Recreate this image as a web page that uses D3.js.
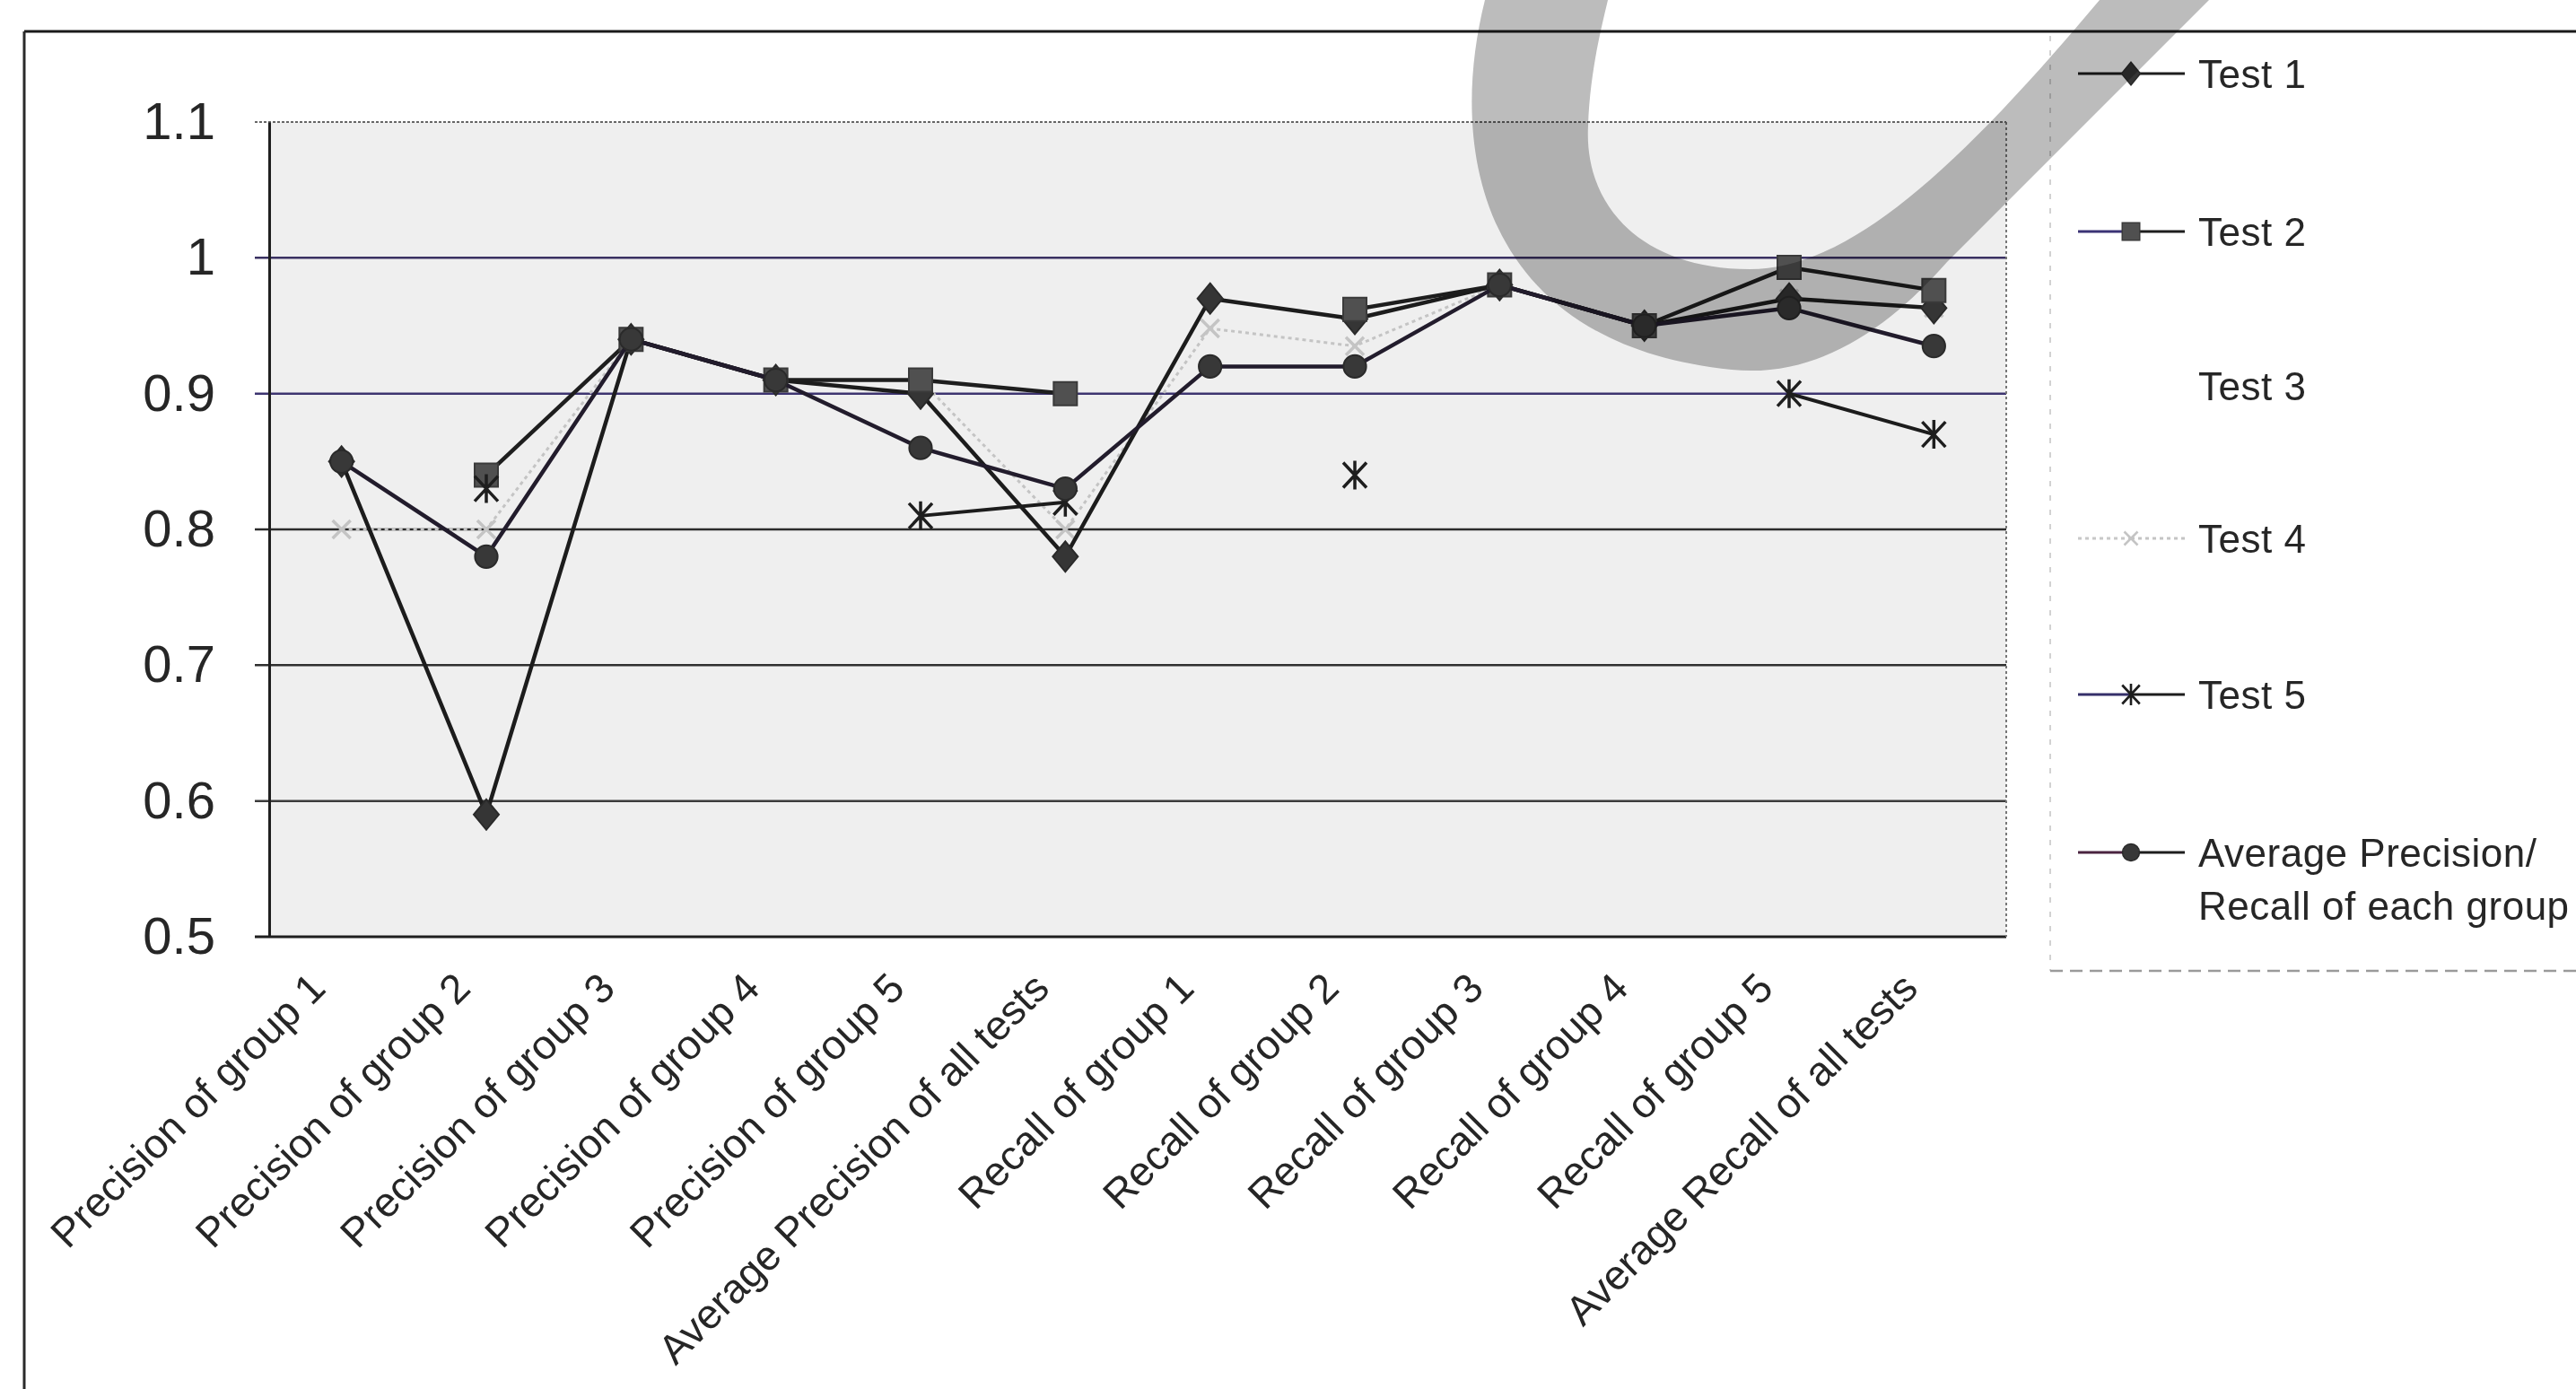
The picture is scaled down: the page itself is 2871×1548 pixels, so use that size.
<!DOCTYPE html>
<html>
<head>
<meta charset="utf-8">
<script src="https://cdn.jsdelivr.net/npm/d3@7/dist/d3.min.js"></script>
<style>
  html, body { margin: 0; padding: 0; background: #ffffff; }
  svg { display: block; }
  text { font-family: "Liberation Sans", Arial, sans-serif; fill: #262626; }
</style>
</head>
<body>
<svg id="chart" width="2871" height="1548"></svg>
<script>
// Categories along the x axis
const categories = [
  "Precision of group 1", "Precision of group 2", "Precision of group 3",
  "Precision of group 4", "Precision of group 5", "Average Precision of all tests",
  "Recall of group 1", "Recall of group 2", "Recall of group 3",
  "Recall of group 4", "Recall of group 5", "Average Recall of all tests"
];

// Series values (null = no value for that category)
const test1   = [0.85, 0.59, 0.94, 0.91, 0.90, 0.78, 0.97, 0.955, 0.98, 0.95, 0.97, 0.963];
const test2   = [null, 0.84, 0.94, 0.91, 0.91, 0.90, null, 0.962, 0.98, 0.95, 0.993, 0.976];
const test3   = [null, null, null, null, null, null, null, null, null, null, null, null];
const test4   = [0.80, 0.80, 0.94, 0.91, 0.91, 0.80, 0.948, 0.935, 0.98, 0.95, 0.97, 0.963];
const test5   = [null, 0.83, null, null, 0.81, 0.82, null, 0.84, null, null, 0.90, 0.87];
const average = [0.85, 0.78, 0.94, 0.91, 0.86, 0.83, 0.92, 0.92, 0.98, 0.95, 0.963, 0.935];

// Series names as shown in the legend
const seriesNames = ["Test 1", "Test 2", "Test 3", "Test 4", "Test 5", "Average Precision/\nRecall of each group"];

// Y axis ticks
const yTickValues = [0.5, 0.6, 0.7, 0.8, 0.9, 1.0, 1.1];
const yTickLabels = ["0.5", "0.6", "0.7", "0.8", "0.9", "1", "1.1"];

const svg = d3.select("#chart");
const W = 2871, H = 1548;

// Plot area
const plot = { left: 300, right: 2236, top: 136, bottom: 1044 };

const x = d3.scalePoint().domain(categories).range([plot.left, plot.right]).padding(0.5);
const y = d3.scaleLinear().domain([0.5, 1.1]).range([plot.bottom, plot.top]);

// Outer chart frame (top and left edges)
svg.append("line").attr("x1", 27).attr("x2", W).attr("y1", 35).attr("y2", 35)
  .attr("stroke", "#1a1a1a").attr("stroke-width", 3);
svg.append("line").attr("x1", 27).attr("x2", 27).attr("y1", 35).attr("y2", H)
  .attr("stroke", "#2a2a2a").attr("stroke-width", 3);

// Plot background
svg.append("rect")
  .attr("x", plot.left).attr("y", plot.top)
  .attr("width", plot.right - plot.left).attr("height", plot.bottom - plot.top)
  .attr("fill", "#efefef");

// Horizontal gridlines
const gridStyle = {
  0.5: { c: "#1f1f1f", w: 3, dash: null },
  0.6: { c: "#3c3c3c", w: 2.5, dash: null },
  0.7: { c: "#2f2f2f", w: 2.5, dash: null },
  0.8: { c: "#2c2c2c", w: 2.5, dash: null },
  0.9: { c: "#3d3470", w: 2.5, dash: null },
  1.0: { c: "#3a3162", w: 2.5, dash: null },
  1.1: { c: "#666666", w: 2, dash: "3,2" }
};
svg.append("g").selectAll("line")
  .data(yTickValues)
  .join("line")
  .attr("x1", plot.left - 16).attr("x2", plot.right)
  .attr("y1", d => y(d)).attr("y2", d => y(d))
  .attr("stroke", d => gridStyle[d].c)
  .attr("stroke-width", d => gridStyle[d].w)
  .attr("stroke-dasharray", d => gridStyle[d].dash);

// Right edge of plot area (dotted)
svg.append("line")
  .attr("x1", plot.right).attr("x2", plot.right)
  .attr("y1", plot.top).attr("y2", plot.bottom)
  .attr("stroke", "#777").attr("stroke-width", 2).attr("stroke-dasharray", "3,3");

// Y axis with labels
const yAxis = d3.axisLeft(y)
  .tickValues(yTickValues)
  .tickFormat((d, i) => yTickLabels[i])
  .tickSize(0)
  .tickPadding(60);
const yg = svg.append("g").attr("transform", `translate(${plot.left},0)`).call(yAxis);
yg.select(".domain").attr("stroke", "#1f1f1f").attr("stroke-width", 3);
yg.selectAll("text")
  .style("font-family", "'Liberation Sans', Arial, sans-serif")
  .style("font-size", "58px")
  .attr("fill", "#2a2a2a");

// X axis labels (rotated)
const xAxis = d3.axisBottom(x).tickSize(0).tickPadding(0);
const xg = svg.append("g").attr("transform", `translate(0,${plot.bottom})`).call(xAxis);
xg.select(".domain").remove();
xg.selectAll(".tick text")
  .style("font-family", "'Liberation Sans', Arial, sans-serif")
  .style("font-size", "46px")
  .attr("fill", "#2a2a2a")
  .attr("text-anchor", "end")
  .attr("dy", null)
  .attr("y", 0)
  .attr("transform", "translate(-16,60) rotate(-45)");

// Marker shapes
function markerPath(kind) {
  switch (kind) {
    case "diamond": return "M0,-17L14,0L0,17L-14,0Z";
    case "square": return "M-13,-13L13,-13L13,13L-13,13Z";
    case "circle": return d3.symbol(d3.symbolCircle, 500)();
    case "star": return "M-13,-14L13,14M13,-14L-13,14M0,-16L0,16";
    case "cross": return "M-10,-10L10,10M10,-10L-10,10";
    default: return "";
  }
}

const series = [
  { name: seriesNames[0], values: test1, line: "#1c1c1c", width: 4.5, dash: null, marker: "diamond", fill: "#353535", stroke: "#2a2a2a", legendLine: "#1c1c1c" },
  { name: seriesNames[1], values: test2, line: "#1e1e1e", width: 4.5, dash: null, marker: "square", fill: "#505050", stroke: "#3a3a3a", legendLine: "#3b3375" },
  { name: seriesNames[2], values: test3, line: "#ffffff", width: 4, dash: null, marker: "circle", fill: "#ffffff", stroke: "#ffffff", legendLine: "#ffffff" },
  { name: seriesNames[3], values: test4, line: "#c4c4c4", width: 3, dash: "4,4", marker: "cross", fill: "none", stroke: "#c4c4c4", legendLine: "#c8c8c8" },
  { name: seriesNames[4], values: test5, line: "#1c1c1c", width: 4, dash: null, marker: "star", fill: "none", stroke: "#1e1e1e", legendLine: "#35306a" },
  { name: seriesNames[5], values: average, line: "#221c2c", width: 4.5, dash: null, marker: "circle", fill: "#383838", stroke: "#2a2a2a", legendLine: "#4a2440" }
];

const lineGen = d3.line()
  .defined(d => d.v !== null)
  .x(d => x(d.c))
  .y(d => y(d.v));

// Faint series first so its dots sit under the dark lines
const drawOrder = [3, 2, 0, 1, 4, 5];
const marksG = svg.append("g");
drawOrder.forEach(i => {
  const s = series[i];
  const pts = s.values.map((v, k) => ({ c: categories[k], v }));
  const g = marksG.append("g");
  g.append("path")
    .datum(pts)
    .attr("d", lineGen)
    .attr("fill", "none")
    .attr("stroke", s.line)
    .attr("stroke-width", s.width)
    .attr("stroke-dasharray", s.dash)
    .attr("stroke-linejoin", "round");
  g.selectAll("path.mk")
    .data(pts.filter(p => p.v !== null))
    .join("path")
    .attr("class", "mk")
    .attr("transform", p => `translate(${x(p.c)},${y(p.v)})`)
    .attr("d", markerPath(s.marker))
    .attr("fill", s.fill)
    .attr("stroke", s.stroke)
    .attr("stroke-width", s.marker === "star" || s.marker === "cross" ? 3.5 : 2);
});

// Legend
const legend = { x: 2285, top: 40, bottom: 1082, lineX1: 2316, lineX2: 2435, markX: 2375, textX: 2450 };
svg.append("line")
  .attr("x1", legend.x).attr("x2", legend.x).attr("y1", legend.top).attr("y2", legend.bottom)
  .attr("stroke", "#d2d2d2").attr("stroke-width", 2).attr("stroke-dasharray", "6,10");
svg.append("line")
  .attr("x1", legend.x).attr("x2", W).attr("y1", legend.bottom).attr("y2", legend.bottom)
  .attr("stroke", "#9a9a9a").attr("stroke-width", 2.5).attr("stroke-dasharray", "14,8");

const legendY = [82, 258, 430, 600, 774, 950];
const lg = svg.append("g");
series.forEach((s, i) => {
  const cy = legendY[i];
  const item = lg.append("g");
  item.append("line")
    .attr("x1", legend.lineX1).attr("x2", legend.markX).attr("y1", cy).attr("y2", cy)
    .attr("stroke", s.legendLine).attr("stroke-width", 3)
    .attr("stroke-dasharray", s.dash);
  item.append("line")
    .attr("x1", legend.markX).attr("x2", legend.lineX2).attr("y1", cy).attr("y2", cy)
    .attr("stroke", s.line === "#ffffff" ? "#ffffff" : (s.dash ? s.line : "#1e1e1e")).attr("stroke-width", 3)
    .attr("stroke-dasharray", s.dash);
  item.append("path")
    .attr("transform", `translate(${legend.markX},${cy}) scale(0.75)`)
    .attr("d", markerPath(s.marker))
    .attr("fill", s.fill)
    .attr("stroke", s.stroke)
    .attr("stroke-width", s.marker === "star" || s.marker === "cross" ? 3.5 : 2);
  const lines = s.name.split("\n");
  const t = item.append("text")
    .attr("x", legend.textX).attr("y", cy + 16)
    .style("font-size", "44px")
    .style("letter-spacing", "0.5px");
  lines.forEach((ln, k) => {
    t.append("tspan").attr("x", legend.textX).attr("dy", k === 0 ? 0 : 59).text(ln);
  });
});

// Grey smudge across the top of the sheet
svg.append("path")
  .attr("d", "M1655,0 C1610,180 1660,385 1930,412 C2030,422 2110,360 2170,292 L2462,0 L2340,0 C2180,190 2060,300 1950,300 C1830,300 1765,230 1770,140 C1772,80 1785,30 1792,0 Z")
  .attr("fill", "#bcbcbc")
  .style("mix-blend-mode", "multiply");
</script>
</body>
</html>
